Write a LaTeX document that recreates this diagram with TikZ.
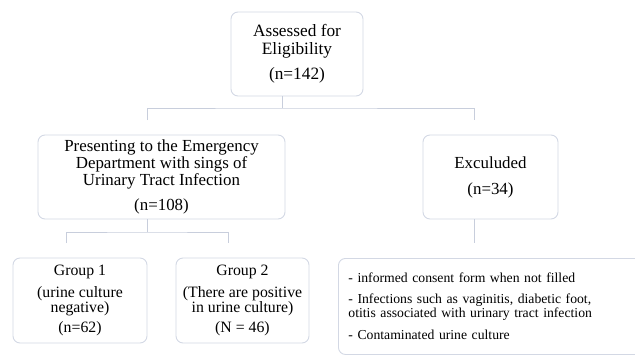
\documentclass[tikz,border=0pt]{standalone}
\usepackage{fontspec}
\setmainfont{Liberation Serif}
\definecolor{boxline}{HTML}{D3D8E4}
\definecolor{treeline}{HTML}{C8CEDC}

\begin{document}
\begin{tikzpicture}[x=1pt,y=-1pt,
	box/.style={draw=boxline,line width=.9pt,rounded corners=7pt,align=center,inner sep=0pt},
	link/.style={draw=treeline,line width=.9pt}]
	\clip (0,0) rectangle (635,354);
	% boxes
	\node[box,minimum width=132pt,minimum height=84pt,font=\fontsize{17.3}{18}\selectfont] (assess) at (297,54) {Assessed for\\Eligibility\\[7pt](n=142)};
	\node[box,minimum width=247pt,minimum height=84pt,font=\fontsize{16.9}{17}\selectfont] (present) at (161.5,177) {Presenting to the Emergency\\Department with sings of\\Urinary Tract Infection\\[8pt](n=108)};
	\node[box,minimum width=135pt,minimum height=84pt,font=\fontsize{16.9}{17}\selectfont] (excl) at (490.5,177) {Exculuded\\[9pt](n=34)};
	\node[box,minimum width=134pt,minimum height=85pt,font=\fontsize{15.8}{15.5}\selectfont] (grpA) at (80,300.5) {Group 1\\[6.5pt](urine culture\\negative)\\[4.5pt](n=62)};
	\node[box,minimum width=133pt,minimum height=85pt,font=\fontsize{15.8}{15.5}\selectfont] (grpB) at (242.5,300.5) {Group 2\\[6.5pt](There are positive\\in urine culture)\\[4.5pt](N = 46)};
	\node[box,anchor=north west,text width=290pt,inner xsep=10pt,minimum height=96pt,align=left,font=\fontsize{13.7}{14}\selectfont] (reasons) at (338,258) {- informed consent form when not filled\\[7pt]- Infections such as vaginitis, diabetic foot,\\otitis associated with urinary tract infection\\[8pt]- Contaminated urine culture};
	
	% tree lines
	\coordinate (split) at (282,108);
	\coordinate (dropL) at (147,120);
	\coordinate (dropR) at (474,120);
	\draw[link] (assess.south -| split) -- (split);
	\draw[link] (dropL) |- (split) -| (dropR);
	\coordinate (fork) at (147,232);
	\coordinate (dropA) at (66,243);
	\coordinate (dropB) at (228,243);
	\draw[link] (present.south -| fork) -- (fork);
	\draw[link] (dropA) |- (fork) -| (dropB);
	\coordinate (dropC) at (474,243);
	\draw[link] (excl.south -| dropC) -- (dropC);
\end{tikzpicture}
\end{document}
